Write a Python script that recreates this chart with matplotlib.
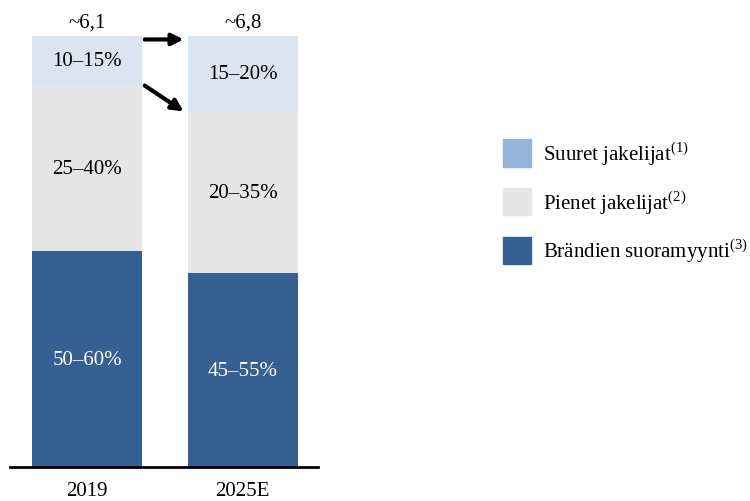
import matplotlib
matplotlib.use('Agg')
import matplotlib.pyplot as plt
from matplotlib.patches import Patch

plt.rcParams['font.family'] = ['Liberation Serif', 'DejaVu Serif']
plt.rcParams['mathtext.fontset'] = 'custom'
plt.rcParams['mathtext.rm'] = 'Liberation Serif'

years = ['2019', '2025E']
totals = ['~6,1', '~6,8']
# share of market (bar heights, %)
brand_direct = [50, 45]
small_dist = [38.5, 37.5]
large_dist = [11.5, 17.5]
brand_labels = ['50–60%', '45–55%']
small_labels = ['25–40%', '20–35%']
large_labels = ['10–15%', '15–20%']

c_dark = '#366092'
c_gray = '#e6e6e6'
c_light = '#dbe5f1'
c_light_leg = '#95b3d7'

fig = plt.figure(figsize=(7.5, 5.02), dpi=100)
ax = fig.add_axes([10 / 750, 34 / 502, 308 / 750, 431 / 502])

x = [0, 1]
w = 0.707
ax.bar(x, brand_direct, w, color=c_dark)
ax.bar(x, small_dist, w, bottom=brand_direct, color=c_gray)
bottom2 = [a + b for a, b in zip(brand_direct, small_dist)]
ax.bar(x, large_dist, w, bottom=bottom2, color=c_light)

fs = 15
for i in x:
    ax.text(i, brand_direct[i] / 2, brand_labels[i], ha='center', va='center',
            color='white', fontsize=fs)
    ax.text(i, brand_direct[i] + small_dist[i] / 2, small_labels[i],
            ha='center', va='center', color='black', fontsize=fs)
    ax.text(i, bottom2[i] + large_dist[i] / 2, large_labels[i],
            ha='center', va='center', color='black', fontsize=fs)
    ax.text(i, bottom2[i] + large_dist[i] + 1.0, totals[i], ha='center',
            va='bottom', fontsize=fs)

# arrows between bars
arr = dict(arrowstyle='-|>', color='black', lw=3, mutation_scale=17,
           shrinkA=0, shrinkB=0)
ax.annotate('', xy=(0.62, 99.2), xytext=(0.37, 99.2), arrowprops=arr)
ax.annotate('', xy=(0.62, bottom2[1]), xytext=(0.37, bottom2[0]),
            arrowprops=arr)

ax.set_xlim(-0.495, 1.483)
ax.set_ylim(0, 100)
ax.set_xticks(x)
ax.set_xticklabels(years, fontsize=fs)
ax.tick_params(axis='x', length=0, pad=10)
ax.set_yticks([])
for s in ['top', 'right', 'left']:
    ax.spines[s].set_visible(False)
ax.spines['bottom'].set_linewidth(2)

handles = [Patch(color=c_light_leg), Patch(color=c_gray), Patch(color=c_dark)]
names = [r'Suuret jakelijat$^{\mathrm{(1)}}$',
         r'Pienet jakelijat$^{\mathrm{(2)}}$',
         r'Brändien suoramyynti$^{\mathrm{(3)}}$']
fig.legend(handles, names, loc='upper left',
           bbox_to_anchor=(503 / 750, 1 - 140 / 502),
           frameon=False, fontsize=fs, handlelength=1.35, handleheight=1.64,
           labelspacing=1.0, handletextpad=0.55, borderpad=0,
           borderaxespad=0)

fig.savefig('out.png', dpi=100)
